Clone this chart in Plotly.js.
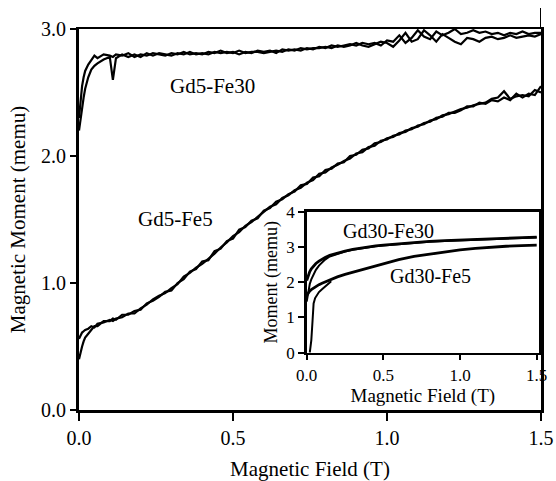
<!DOCTYPE html>
<html>
<head>
<meta charset="utf-8">
<script src="https://cdn.plot.ly/plotly-3.0.1.min.js"></script>
<style>html,body{margin:0;padding:0;background:#fff;}#chart{width:556px;height:481px;}</style>
</head>
<body>
<div id="chart"></div>
<script>
// ---- Main panel data (Magnetic Field in T, Moment in memu) ----
const fieldMain = [0, 0.005, 0.01, 0.015, 0.02, 0.03, 0.04, 0.05, 0.06, 0.08, 0.1, 0.11, 0.12,
  0.14, 0.16, 0.18, 0.2, 0.22, 0.24, 0.26, 0.28, 0.3, 0.32, 0.34, 0.36, 0.38, 0.4, 0.42, 0.44, 0.46, 0.48,
  0.5, 0.52, 0.54, 0.56, 0.58, 0.6, 0.62, 0.64, 0.66, 0.68, 0.7, 0.72, 0.74, 0.76, 0.78, 0.8, 0.82, 0.84,
  0.86, 0.88, 0.9, 0.92, 0.94, 0.96, 0.98, 1.0, 1.02, 1.04, 1.06, 1.08, 1.1, 1.12, 1.14, 1.16, 1.18, 1.2,
  1.22, 1.24, 1.26, 1.28, 1.3, 1.32, 1.34, 1.36, 1.38, 1.4, 1.42, 1.44, 1.46, 1.48, 1.5];

const gd5fe30Up = [2.30, 2.45, 2.55, 2.62, 2.67, 2.72, 2.76, 2.79, 2.77, 2.80, 2.79, 2.78, 2.80,
  2.79, 2.81, 2.78, 2.80, 2.79, 2.81, 2.80, 2.79, 2.81, 2.80, 2.82, 2.80, 2.81, 2.80, 2.82, 2.81, 2.83, 2.81,
  2.82, 2.80, 2.82, 2.81, 2.83, 2.82, 2.83, 2.81, 2.84, 2.83, 2.84, 2.83, 2.85, 2.84, 2.86, 2.85, 2.87, 2.86,
  2.87, 2.88, 2.87, 2.89, 2.88, 2.89, 2.87, 2.91, 2.90, 2.95, 2.89, 2.93, 2.99, 2.94, 2.92, 2.98, 2.95, 2.97,
  3.00, 2.96, 2.97, 2.99, 2.97, 2.98, 2.96, 2.97, 2.95, 2.97, 2.96, 2.98, 2.96, 2.97, 2.97];

const gd5fe30Down = [2.20, 2.30, 2.38, 2.46, 2.53, 2.62, 2.68, 2.71, 2.73, 2.76, 2.78, 2.60, 2.77,
  2.80, 2.78, 2.80, 2.78, 2.81, 2.79, 2.81, 2.80, 2.79, 2.81, 2.80, 2.82, 2.80, 2.81, 2.80, 2.82, 2.81, 2.82,
  2.81, 2.83, 2.81, 2.82, 2.82, 2.81, 2.82, 2.83, 2.82, 2.84, 2.83, 2.85, 2.84, 2.85, 2.85, 2.86, 2.85, 2.87,
  2.86, 2.87, 2.89, 2.87, 2.86, 2.88, 2.90, 2.89, 2.86, 2.91, 2.97, 2.90, 2.92, 2.99, 2.95, 2.90, 2.96, 2.93,
  2.90, 2.88, 2.93, 2.92, 2.90, 2.93, 2.94, 2.92, 2.93, 2.95, 2.93, 2.94, 2.95, 2.94, 2.96];

const gd5fe5Up = [0.56, 0.59, 0.61, 0.62, 0.63, 0.64, 0.66, 0.65, 0.68, 0.69, 0.71, 0.70, 0.72,
  0.73, 0.76, 0.76, 0.80, 0.83, 0.87, 0.90, 0.92, 0.96, 0.99, 1.05, 1.08, 1.12, 1.15, 1.19, 1.23, 1.28, 1.32,
  1.37, 1.40, 1.45, 1.48, 1.52, 1.56, 1.60, 1.62, 1.67, 1.69, 1.73, 1.75, 1.79, 1.81, 1.86, 1.87, 1.91, 1.93,
  1.96, 1.98, 2.02, 2.03, 2.07, 2.08, 2.12, 2.13, 2.16, 2.17, 2.20, 2.21, 2.24, 2.25, 2.28, 2.29, 2.32, 2.33,
  2.35, 2.37, 2.38, 2.40, 2.41, 2.42, 2.45, 2.46, 2.51, 2.45, 2.47, 2.48, 2.47, 2.52, 2.50];

const gd5fe5Down = [0.40, 0.46, 0.50, 0.54, 0.57, 0.60, 0.63, 0.66, 0.66, 0.70, 0.70, 0.72, 0.71,
  0.75, 0.75, 0.78, 0.79, 0.84, 0.86, 0.89, 0.93, 0.94, 1.00, 1.03, 1.09, 1.11, 1.17, 1.18, 1.25, 1.27, 1.33,
  1.35, 1.42, 1.44, 1.49, 1.51, 1.57, 1.59, 1.64, 1.66, 1.70, 1.72, 1.77, 1.78, 1.83, 1.84, 1.89, 1.90, 1.94,
  1.95, 2.00, 2.01, 2.05, 2.06, 2.10, 2.11, 2.14, 2.15, 2.18, 2.19, 2.22, 2.23, 2.26, 2.27, 2.30, 2.31, 2.34,
  2.34, 2.36, 2.39, 2.39, 2.42, 2.41, 2.44, 2.43, 2.46, 2.44, 2.49, 2.46, 2.49, 2.48, 2.55];

// ---- Inset data ----
const fieldInset = [0, 0.01, 0.02, 0.03, 0.04, 0.05, 0.06, 0.08, 0.1, 0.12, 0.15, 0.2, 0.25, 0.3, 0.35,
  0.4, 0.45, 0.5, 0.6, 0.7, 0.8, 0.9, 1.0, 1.1, 1.2, 1.3, 1.4, 1.5];
const gd30fe30A = [2.05, 2.20, 2.30, 2.38, 2.44, 2.49, 2.53, 2.60, 2.66, 2.70, 2.76, 2.83, 2.88, 2.93, 2.97,
  3.00, 3.03, 3.05, 3.09, 3.13, 3.16, 3.18, 3.20, 3.22, 3.24, 3.25, 3.27, 3.28];
const gd30fe30B = [1.45, 1.75, 1.95, 2.08, 2.18, 2.27, 2.35, 2.47, 2.57, 2.64, 2.73, 2.81, 2.87, 2.92, 2.96,
  2.99, 3.02, 3.04, 3.08, 3.12, 3.15, 3.17, 3.19, 3.21, 3.23, 3.24, 3.26, 3.27];
const gd30fe5A = [1.62, 1.70, 1.75, 1.79, 1.82, 1.85, 1.88, 1.93, 1.97, 2.01, 2.07, 2.15, 2.22, 2.28, 2.35,
  2.42, 2.48, 2.53, 2.64, 2.73, 2.80, 2.87, 2.92, 2.96, 3.00, 3.02, 3.04, 3.05];
const fieldFe5Virgin = [0.02, 0.03, 0.038, 0.045, 0.055, 0.065, 0.08, 0.1, 0.13, 0.16];
const gd30fe5Virgin = [0.0, 0.35, 0.9, 1.40, 1.55, 1.62, 1.72, 1.80, 1.92, 2.03];

const xTicks = [0, 0.5, 1.0, 1.5];
const xTickText = ['0.0', '0.5', '1.0', '1.5'];
const yTicksMain = [0, 1, 2, 3];
const yTickTextMain = ['0.0', '1.0', '2.0', '3.0'];
const yTicksInset = [0, 1, 2, 3, 4];
const yTickTextInset = ['0', '1', '2', '3', '4'];

const serif = "'Liberation Serif', 'Times New Roman', Times, serif";
const ink = '#000';

function line(x, y, w, xa, ya) {
  return {x: x, y: y, type: 'scatter', mode: 'lines', xaxis: xa, yaxis: ya,
    line: {color: ink, width: w}, hoverinfo: 'skip', showlegend: false};
}

const data = [
  line(fieldMain, gd5fe30Up, 2.2, 'x', 'y'),
  line(fieldMain, gd5fe30Down, 2.2, 'x', 'y'),
  line(fieldMain, gd5fe5Up, 2.2, 'x', 'y'),
  line(fieldMain, gd5fe5Down, 2.2, 'x', 'y'),
  line(fieldInset, gd30fe30A, 2.8, 'x2', 'y2'),
  line(fieldInset, gd30fe30B, 2, 'x2', 'y2'),
  line(fieldInset, gd30fe5A, 2.8, 'x2', 'y2'),
  line(fieldFe5Virgin, gd30fe5Virgin, 2, 'x2', 'y2')
];

const L = 79, R = 15, T = 29, B = 71, W = 556, H = 481;
const pw = W - L - R, ph = H - T - B;
const px = v => (v - L) / pw;
const py = v => (H - B - v) / ph;

const layout = {
  width: W, height: H,
  margin: {l: L, r: R, t: T, b: B, pad: 0},
  paper_bgcolor: '#fff', plot_bgcolor: '#fff',
  font: {family: serif, color: ink},
  showlegend: false,
  xaxis: {
    domain: [0, 1], range: [0, 1.5], anchor: 'y',
    tickvals: xTicks, ticktext: xTickText,
    ticks: 'outside', ticklen: 8, tickwidth: 2, tickcolor: ink,
    showline: true, linewidth: 2.5, linecolor: ink, mirror: true,
    showgrid: false, zeroline: false,
    tickfont: {family: serif, size: 20, color: ink},
    title: {text: 'Magnetic Field (T)', font: {family: serif, size: 21, color: ink}, standoff: 14}
  },
  yaxis: {
    domain: [0, 1], range: [0, 3], anchor: 'x',
    tickvals: yTicksMain, ticktext: yTickTextMain,
    ticks: 'outside', ticklen: 6, tickwidth: 2, tickcolor: ink,
    showline: true, linewidth: 3, linecolor: ink, mirror: true,
    showgrid: false, zeroline: false,
    tickfont: {family: serif, size: 20, color: ink},
    title: {text: 'Magnetic Moment (memu)', font: {family: serif, size: 21, color: ink}, standoff: 10}
  },
  xaxis2: {
    domain: [px(306.7), px(539)], range: [0, 1.515], anchor: 'y2',
    tickvals: xTicks, ticktext: xTickText,
    ticks: 'outside', ticklen: 5, tickwidth: 2, tickcolor: ink,
    showline: true, linewidth: 2.5, linecolor: ink, mirror: true,
    showgrid: false, zeroline: false,
    tickfont: {family: serif, size: 17, color: ink},
    title: {text: 'Magnetic Field (T)', font: {family: serif, size: 19, color: ink}, standoff: 0}
  },
  yaxis2: {
    domain: [py(352.7), py(211.7)], range: [0, 4], anchor: 'x2',
    tickvals: yTicksInset, ticktext: yTickTextInset,
    ticks: 'outside', ticklen: 6, tickwidth: 2, tickcolor: ink,
    showline: true, linewidth: 2.5, linecolor: ink, mirror: true,
    showgrid: false, zeroline: false,
    tickfont: {family: serif, size: 17, color: ink},
    title: {text: 'Moment (memu)', font: {family: serif, size: 18, color: ink}, standoff: 4}
  },
  annotations: [
    {text: 'Gd5-Fe30', xref: 'paper', yref: 'paper', x: px(212.5), y: py(86), xanchor: 'center', yanchor: 'middle', showarrow: false, font: {family: serif, size: 21, color: ink}},
    {text: 'Gd5-Fe5', xref: 'paper', yref: 'paper', x: px(175), y: py(219), xanchor: 'center', yanchor: 'middle', showarrow: false, font: {family: serif, size: 21, color: ink}},
    {text: 'Gd30-Fe30', xref: 'paper', yref: 'paper', x: px(388), y: py(231), xanchor: 'center', yanchor: 'middle', showarrow: false, font: {family: serif, size: 20, color: ink}},
    {text: 'Gd30-Fe5', xref: 'paper', yref: 'paper', x: px(430), y: py(276), xanchor: 'center', yanchor: 'middle', showarrow: false, font: {family: serif, size: 20, color: ink}}
  ],
  shapes: [
    {type: 'line', xref: 'x', yref: 'paper', x0: 1.5, x1: 1.5, y0: 1, y1: py(8), line: {color: ink, width: 2}}
  ]
};

Plotly.newPlot('chart', data, layout, {staticPlot: true, displayModeBar: false});
</script>
</body>
</html>
